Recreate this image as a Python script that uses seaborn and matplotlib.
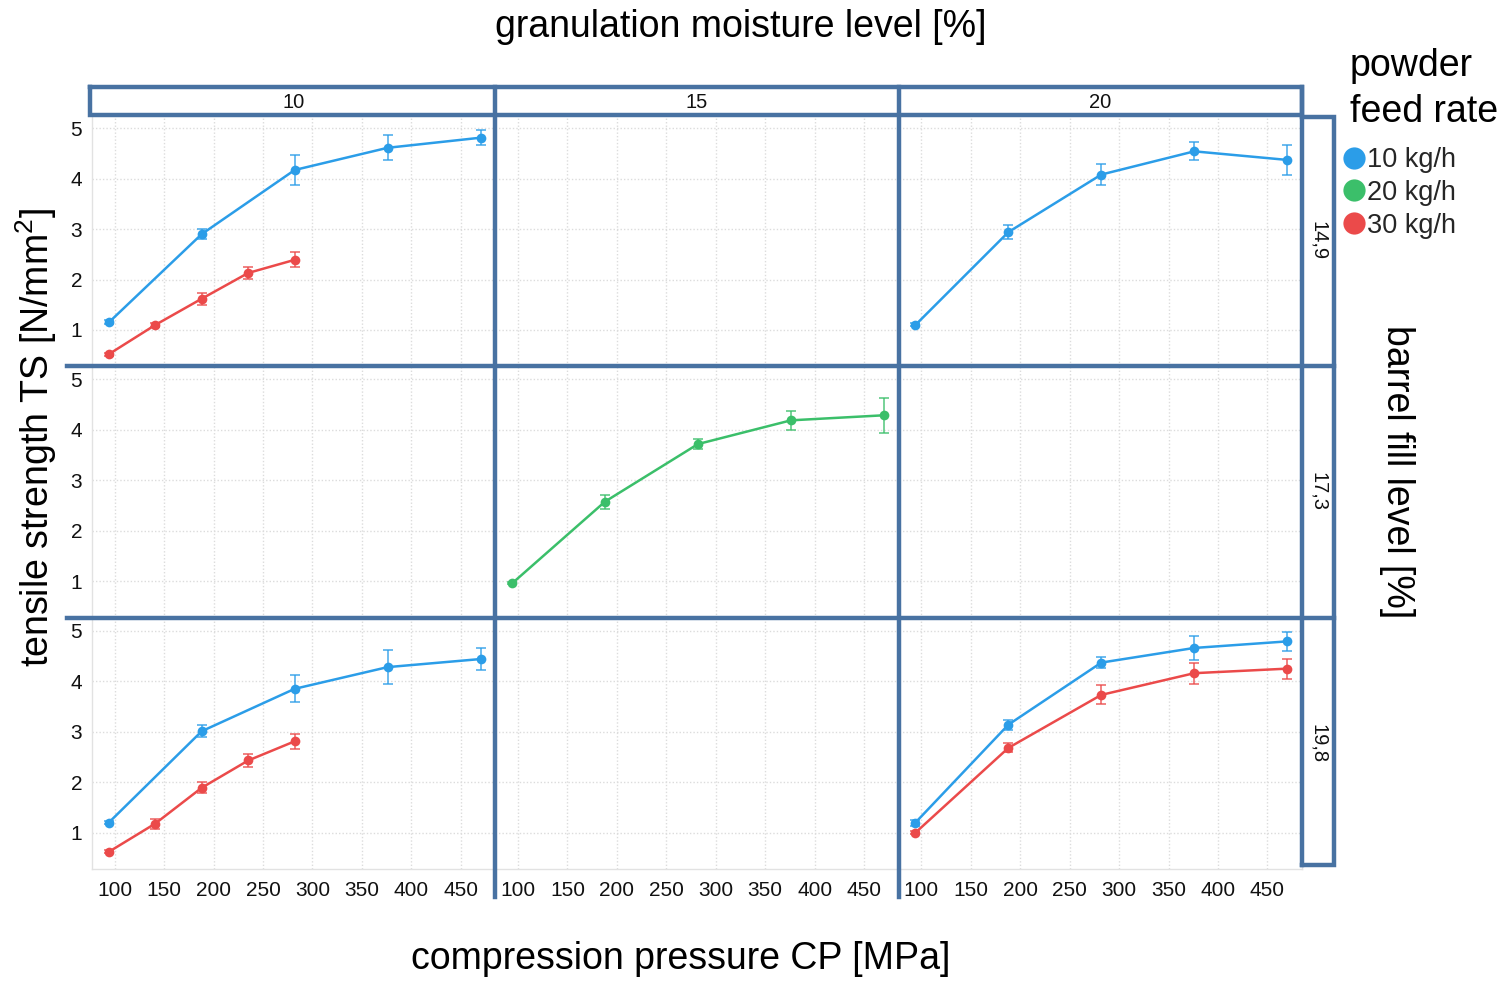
import numpy as np
import pandas as pd
import matplotlib
matplotlib.use("Agg")
import matplotlib.pyplot as plt
from matplotlib.lines import Line2D
import seaborn as sns

# ---------------- data ----------------
moisture_levels = ["10", "15", "20"]          # granulation moisture level [%]
fill_levels = ["14,9", "17,3", "19,8"]         # barrel fill level [%]
feed_rates = ["10 kg/h", "20 kg/h", "30 kg/h"]  # powder feed rate
feed_colors = ["#2b9de8", "#3bbf6a", "#eb4a4a"]

cp_main = [94, 188, 282, 376, 470]
cp_red = [94, 141, 188, 235, 282]

ts_149_10_blue = [1.15, 2.90, 4.17, 4.61, 4.81]
sd_149_10_blue = [0.04, 0.10, 0.29, 0.25, 0.15]
ts_149_10_red = [0.52, 1.10, 1.62, 2.13, 2.39]
sd_149_10_red = [0.03, 0.04, 0.12, 0.12, 0.15]

ts_149_20_blue = [1.10, 2.94, 4.08, 4.54, 4.37]
sd_149_20_blue = [0.03, 0.14, 0.21, 0.18, 0.29]

ts_173_15_green = [0.96, 2.58, 3.72, 4.19, 4.29]
sd_173_15_green = [0.02, 0.14, 0.10, 0.19, 0.35]

ts_198_10_blue = [1.20, 3.01, 3.85, 4.28, 4.44]
sd_198_10_blue = [0.03, 0.12, 0.27, 0.33, 0.22]
ts_198_10_red = [0.62, 1.18, 1.89, 2.43, 2.81]
sd_198_10_red = [0.03, 0.10, 0.11, 0.12, 0.15]

ts_198_20_blue = [1.20, 3.14, 4.37, 4.66, 4.79]
sd_198_20_blue = [0.06, 0.10, 0.11, 0.23, 0.19]
ts_198_20_red = [1.00, 2.68, 3.73, 4.16, 4.25]
sd_198_20_red = [0.03, 0.09, 0.19, 0.21, 0.20]

x_ticks = [100, 150, 200, 250, 300, 350, 400, 450]
y_ticks = [1, 2, 3, 4, 5]

series = [
    ("14,9", "10", "10 kg/h", cp_main, ts_149_10_blue, sd_149_10_blue),
    ("14,9", "10", "30 kg/h", cp_red, ts_149_10_red, sd_149_10_red),
    ("14,9", "20", "10 kg/h", cp_main, ts_149_20_blue, sd_149_20_blue),
    ("17,3", "15", "20 kg/h", cp_main, ts_173_15_green, sd_173_15_green),
    ("19,8", "10", "10 kg/h", cp_main, ts_198_10_blue, sd_198_10_blue),
    ("19,8", "10", "30 kg/h", cp_red, ts_198_10_red, sd_198_10_red),
    ("19,8", "20", "10 kg/h", cp_main, ts_198_20_blue, sd_198_20_blue),
    ("19,8", "20", "30 kg/h", cp_main, ts_198_20_red, sd_198_20_red),
]
rows = []
for fill, moist, feed, xs, ys, sds in series:
    for x, y, s in zip(xs, ys, sds):
        rows.append({"fill": fill, "moisture": moist, "feed": feed, "cp": x, "ts": y, "sd": s})
df = pd.DataFrame(rows)

# ---------------- style ----------------
sns.set_theme(style="white")
plt.rcParams["font.family"] = ["Liberation Sans", "DejaVu Sans"]
plt.rcParams["mathtext.fontset"] = "custom"
plt.rcParams["mathtext.rm"] = "Liberation Sans"
plt.rcParams["mathtext.default"] = "regular"

W, H = 1503, 981
frame_color = "#4872a2"

g = sns.FacetGrid(df, row="fill", col="moisture", hue="feed",
                  row_order=fill_levels, col_order=moisture_levels,
                  hue_order=feed_rates, palette=feed_colors,
                  sharex=True, sharey=True, despine=False, height=3, aspect=1.5)
fig = g.figure

g.map(plt.errorbar, "cp", "ts", "sd", fmt="none", capsize=3.5,
      elinewidth=1.3, capthick=1.3, alpha=0.75, zorder=3)
g.map_dataframe(sns.lineplot, x="cp", y="ts", marker="o", markersize=7,
                linewidth=1.8, markeredgewidth=0, zorder=4)

g.set_titles(template="", row_template="", col_template="")
g.set_axis_labels("", "")

for ax in g.axes.flat:
    ax.set_xlim(77, 485)
    ax.set_ylim(0.28, 5.26)
    ax.set_xticks(x_ticks)
    ax.set_yticks(y_ticks)
    ax.grid(True, linestyle=(0, (1, 1.5)), color="#dcdcdc", linewidth=1.0)
    ax.set_axisbelow(True)
    for sp in ax.spines.values():
        sp.set_color("#e2e2e2")
        sp.set_linewidth(1.0)
    ax.tick_params(axis="both", length=0, labelsize=15, colors="#111111")
    ax.tick_params(axis="x", pad=9)
    ax.tick_params(axis="y", pad=7)
    ax.set_facecolor("white")

# final geometry (after seaborn's own tight_layout calls)
fig.set_size_inches(W / 100, H / 100)
fig.set_dpi(100)
fig.subplots_adjust(left=92 / W, right=1302 / W, top=1 - 115 / H, bottom=1 - 869 / H,
                    wspace=0, hspace=0)

# ---------------- strips / frames ----------------
axes = g.axes
def px_box(ax):
    b = ax.get_position()
    return b.x0 * W, (1 - b.y1) * H, b.x1 * W, (1 - b.y0) * H

x_left = px_box(axes[0, 0])[0]
x_right = px_box(axes[0, 2])[2]
y_top = px_box(axes[0, 0])[1]
y_bottom = px_box(axes[2, 0])[3]
col_bounds = [px_box(axes[0, j]) for j in range(3)]
row_bounds = [px_box(axes[i, 0]) for i in range(3)]

def fline(xs, ys):
    fig.add_artist(Line2D([x / W for x in xs], [1 - y / H for y in ys],
                          transform=fig.transFigure, color=frame_color, lw=3.2,
                          solid_capstyle="projecting", solid_joinstyle="miter", zorder=10))

strip_top = y_top - 28
strip_right = x_right + 32
# top strip box
fline([x_left - 2, x_right, x_right, x_left - 2, x_left - 2],
      [strip_top, strip_top, y_top, y_top, strip_top])
# column separators
for j in (1, 2):
    xb = col_bounds[j][0]
    fline([xb, xb], [strip_top, y_bottom + 28])
# right strip box
fline([x_right, x_right], [strip_top, y_bottom - 4])
fline([x_right, strip_right, strip_right, x_right],
      [y_top + 2, y_top + 2, y_bottom - 4, y_bottom - 4])
# row separators
for i in (1, 2):
    yb = row_bounds[i][1]
    fline([x_left - 25, strip_right], [yb, yb])

for j, lab in enumerate(moisture_levels):
    cx = (col_bounds[j][0] + col_bounds[j][2]) / 2
    fig.text(cx / W, 1 - ((strip_top + y_top) / 2 + 2) / H, lab, ha="center", va="center",
             fontsize=14.5, color="#111111")
for i, lab in enumerate(fill_levels):
    cy = (row_bounds[i][1] + row_bounds[i][3]) / 2
    fig.text((x_right + strip_right) / 2 / W, 1 - cy / H, lab, ha="center", va="center",
             rotation=270, fontsize=14.5, color="#111111")

# ---------------- titles ----------------
fig.text(741 / W, 1 - 27 / H, "granulation moisture level [%]", ha="center", va="center",
         fontsize=27, color="black")
fig.text(681 / W, 1 - 959 / H, "compression pressure CP [MPa]", ha="center", va="center",
         fontsize=27, color="black")
fig.text(36 / W, 1 - 437 / H, r"tensile strength TS [N/mm$^2$]", ha="center", va="center",
         rotation=90, fontsize=27, color="black")
fig.text(1397 / W, 1 - 472 / H, "barrel fill level [%]", ha="center", va="center",
         rotation=270, fontsize=27, color="black")

# ---------------- legend ----------------
fig.text(1350 / W, 1 - 48 / H, "powder\nfeed rate", ha="left", va="top",
         fontsize=27, color="black", linespacing=1.35)
handles = [Line2D([], [], marker="o", ls="", color=c, markersize=16, markeredgewidth=0)
           for c in feed_colors]
fig.legend(handles, feed_rates, loc="upper left", bbox_to_anchor=(1340 / W, 1 - 147 / H),
           frameon=False, fontsize=19.5, handletextpad=0.0, labelspacing=0.25,
           borderpad=0, handlelength=1.0, borderaxespad=0)

fig.savefig("out.png", dpi=100, facecolor="white")
